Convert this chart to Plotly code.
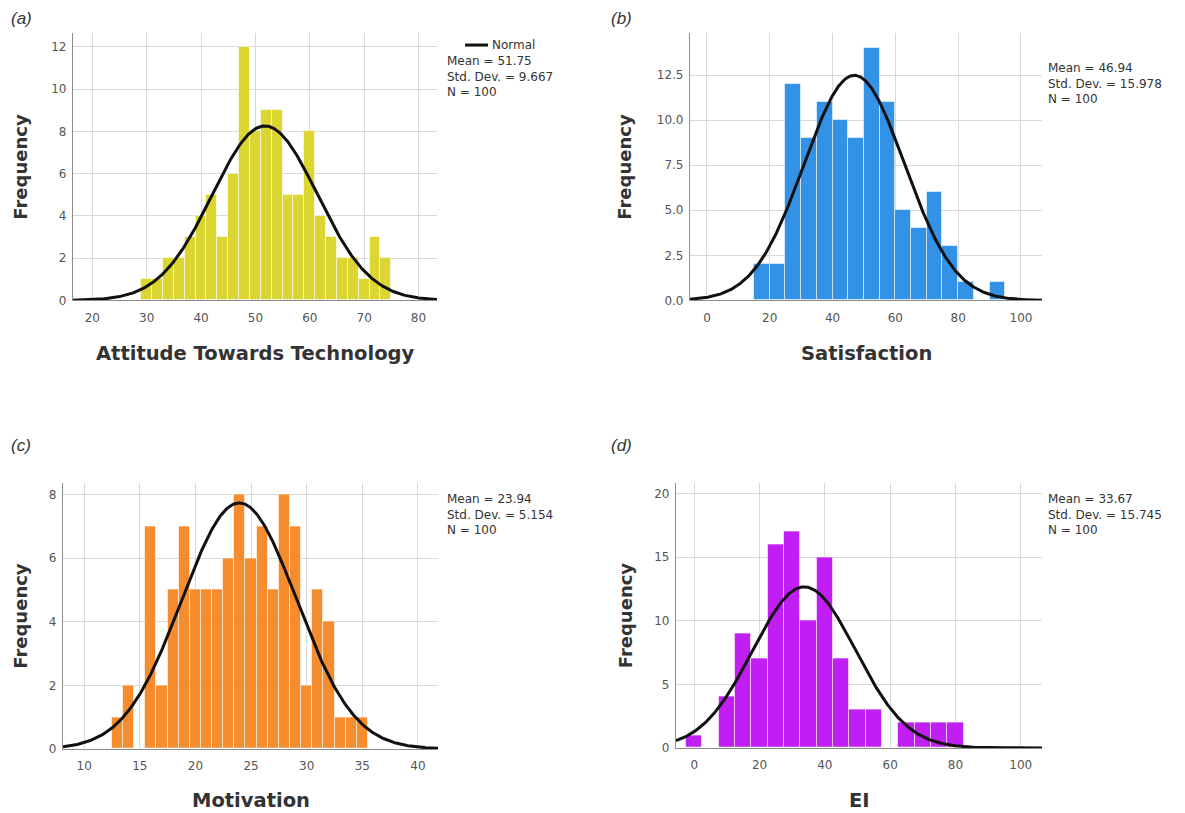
import numpy as np
import plotly.graph_objects as go

# target picture size
W, H = 1185, 813
# the captured page height comes out ~1% taller than the picture, so the figure is sized to match
FIG_H = 821

# ---------------- data ----------------
# (a) Attitude Towards Technology, bin width 2
att_bin_start = 29
att_bin_width = 2
att_counts = [1, 1, 2, 2, 3, 4, 5, 3, 6, 12, 8, 9, 9, 5, 5, 8, 4, 3, 2, 2, 1, 3, 2]
att_stats = {"mean": 51.75, "sd": 9.667, "n": 100}

# (b) Satisfaction, bin width 5
sat_bin_start = 15
sat_bin_width = 5
sat_counts = [2, 2, 12, 9, 11, 10, 9, 14, 11, 5, 4, 6, 3, 1, 0, 1]
sat_stats = {"mean": 46.94, "sd": 15.978, "n": 100}

# (c) Motivation, bin width 1
mot_bin_start = 12.5
mot_bin_width = 1
mot_counts = [1, 2, 0, 7, 2, 5, 7, 5, 5, 5, 6, 8, 6, 7, 5, 8, 7, 2, 5, 4, 1, 1, 1]
mot_stats = {"mean": 23.94, "sd": 5.154, "n": 100}

# (d) EI, bin width 5
ei_bin_start = -2.5
ei_bin_width = 5
ei_counts = [1, 0, 4, 9, 7, 16, 17, 10, 15, 7, 3, 3, 0, 2, 2, 2, 2]
ei_stats = {"mean": 33.67, "sd": 15.745, "n": 100}

panel_labels = ["(a)", "(b)", "(c)", "(d)"]
x_titles = ["Attitude Towards Technology", "Satisfaction", "Motivation", "EI"]
y_title = "Frequency"


def fx(xpx):
    return xpx / W


def fy(ypx):
    return 1 - ypx / H


# ---------------- layout geometry (picture pixels) ----------------
panels = [
    dict(counts=att_counts, start=att_bin_start, width=att_bin_width, stats=att_stats,
         color="#DCD632", px=(73, 437), py=(33, 300), xr=(16.45, 83.4), yr=(0, 12.65),
         xdtick=10, ydtick=2, yfmt="d", label_pos=(9, 18), stats_x=446, stats_y=53,
         legend=True, ytitle_x=21, xtitle_y=353),
    dict(counts=sat_counts, start=sat_bin_start, width=sat_bin_width, stats=sat_stats,
         color="#3391E6", px=(690, 1042), py=(33, 300), xr=(-5.4, 106.7), yr=(0, 14.83),
         xdtick=20, ydtick=2.5, yfmt=".1f", label_pos=(609, 18), stats_x=1047, stats_y=60,
         legend=False, ytitle_x=625, xtitle_y=353),
    dict(counts=mot_counts, start=mot_bin_start, width=mot_bin_width, stats=mot_stats,
         color="#F58C2D", px=(63, 438), py=(482, 748), xr=(8.1, 41.8), yr=(0, 8.38),
         xdtick=5, ydtick=2, yfmt="d", label_pos=(9, 445), stats_x=446, stats_y=490,
         legend=False, ytitle_x=21, xtitle_y=800),
    dict(counts=ei_counts, start=ei_bin_start, width=ei_bin_width, stats=ei_stats,
         color="#C01EF2", px=(676, 1042), py=(482, 747), xr=(-5.6, 106.5), yr=(0, 20.87),
         xdtick=20, ydtick=5, yfmt="d", label_pos=(609, 445), stats_x=1047, stats_y=490,
         legend=False, ytitle_x=625, xtitle_y=800),
]

SMALL_FONT = "DejaVu Sans, Verdana, sans-serif"
TITLE_FONT = "DejaVu Sans, sans-serif"

fig = go.Figure()
annotations = []
shapes = []

for i, p in enumerate(panels):
    k = "" if i == 0 else str(i + 1)
    xa, ya = "x" + k, "y" + k
    counts = np.array(p["counts"], dtype=float)
    centers = p["start"] + p["width"] * (np.arange(len(counts)) + 0.5)
    fig.add_trace(go.Bar(
        x=centers, y=counts, width=p["width"], xaxis=xa, yaxis=ya,
        marker=dict(color=p["color"], line=dict(color="rgba(255,255,255,0.55)", width=1)),
        showlegend=False, hoverinfo="x+y"))
    st = p["stats"]
    xs = np.linspace(p["xr"][0], p["xr"][1], 400)
    ys = st["n"] * p["width"] * np.exp(-0.5 * ((xs - st["mean"]) / st["sd"]) ** 2) / (st["sd"] * np.sqrt(2 * np.pi))
    fig.add_trace(go.Scatter(x=xs, y=ys, mode="lines", xaxis=xa, yaxis=ya,
                             line=dict(color="#111111", width=3), showlegend=False,
                             hoverinfo="skip"))

    x0, x1 = p["px"]
    ytop, ybot = p["py"]
    axis_common = dict(showgrid=True, gridcolor="#D9D9D9", gridwidth=1, zeroline=False,
                       showline=True, linecolor="#8C8C8C", linewidth=1.2,
                       tickfont=dict(family=SMALL_FONT, size=12, color="#555555"),
                       fixedrange=True)
    fig.layout["xaxis" + k] = dict(
        domain=[fx(x0), fx(x1)], anchor=ya, range=list(p["xr"]), tick0=0, dtick=p["xdtick"],
        ticks="outside", ticklen=6, tickcolor="rgba(0,0,0,0)", **axis_common)
    fig.layout["yaxis" + k] = dict(
        domain=[fy(ybot), fy(ytop)], anchor=xa, range=list(p["yr"]), tick0=0,
        dtick=p["ydtick"], tickformat=p["yfmt"], ticks="outside", ticklen=3,
        tickcolor="rgba(0,0,0,0)", **axis_common)

    # panel label
    annotations.append(dict(text="<i>" + panel_labels[i] + "</i>", x=fx(p["label_pos"][0]),
                            y=fy(p["label_pos"][1]), xref="paper", yref="paper",
                            xanchor="left", yanchor="middle", showarrow=False,
                            font=dict(family="Liberation Sans, Arial, sans-serif", size=17, color="#333333")))
    # axis titles
    annotations.append(dict(text="<b>" + x_titles[i] + "</b>", x=fx((x0 + x1) / 2),
                            y=fy(p["xtitle_y"]), xref="paper", yref="paper",
                            xanchor="center", yanchor="middle", showarrow=False,
                            font=dict(family=TITLE_FONT, size=19.5, color="#333333")))
    annotations.append(dict(text="<b>" + y_title + "</b>", x=fx(p["ytitle_x"]),
                            y=fy((ytop + ybot) / 2), xref="paper", yref="paper",
                            xanchor="center", yanchor="middle", textangle=-90, showarrow=False,
                            font=dict(family=TITLE_FONT, size=18, color="#333333")))
    # stats text (one block, three lines)
    stats_text = "<br>".join(["Mean = %.2f" % st["mean"], "Std. Dev. = %.3f" % st["sd"], "N = %d" % st["n"]])
    annotations.append(dict(text=stats_text, x=fx(p["stats_x"]), y=fy(p["stats_y"]),
                            xref="paper", yref="paper", xanchor="left", yanchor="top",
                            align="left", showarrow=False, borderpad=0,
                            font=dict(family=SMALL_FONT, size=12, color="#333333")))
    if p["legend"]:
        shapes.append(dict(type="line", xref="paper", yref="paper", x0=fx(465), x1=fx(488),
                           y0=fy(45), y1=fy(45), line=dict(color="#111111", width=3)))
        annotations.append(dict(text="Normal", x=fx(491), y=fy(45), xref="paper", yref="paper",
                                xanchor="left", yanchor="middle", showarrow=False, borderpad=0,
                                font=dict(family=SMALL_FONT, size=12, color="#333333")))

fig.update_layout(width=W, height=FIG_H, margin=dict(l=0, r=0, t=0, b=0),
                  paper_bgcolor="white", plot_bgcolor="white", bargap=0,
                  annotations=annotations, shapes=shapes)

# pin the figure to the window's top-left corner
pin_js = ("var gd=document.getElementById('{plot_id}');"
          "document.body.style.margin='0';"
          "document.documentElement.style.overflow='hidden';"
          "document.body.style.overflow='hidden';"
          "gd.style.position='fixed';gd.style.left='0px';gd.style.top='0px';")

fig.write_html("out.html", post_script=pin_js, config={"displayModeBar": False})
